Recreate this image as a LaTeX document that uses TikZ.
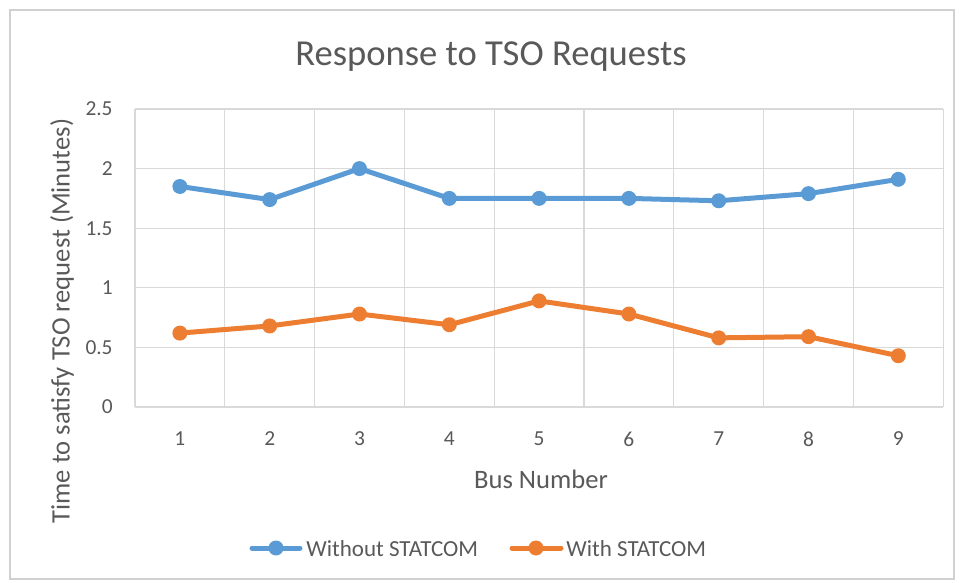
\documentclass[tikz,border=0pt]{standalone}
\usepackage{fontspec}
\setmainfont{Carlito}
\usepackage{xcolor}
\usepackage{tikz}

\definecolor{serieA}{HTML}{5B9BD5}
\definecolor{serieB}{HTML}{ED7D31}
\definecolor{gridgray}{HTML}{D9D9D9}
\definecolor{framegray}{HTML}{D0D0D0}
\definecolor{labelgray}{HTML}{595959}

\tikzset{
  gridline/.style={draw=gridgray, line width=0.6pt},
  ticklab/.style={text=labelgray, font=\fontsize{10.7}{12}\selectfont, inner sep=0pt},
  axistitle/.style={text=labelgray, font=\fontsize{13.3}{15}\selectfont, inner sep=0pt},
  legendlab/.style={text=labelgray, font=\fontsize{11.5}{13}\selectfont, inner sep=0pt},
  curveA/.style={draw=serieA, line width=2.5pt, line cap=round, line join=round},
  curveB/.style={draw=serieB, line width=2.5pt, line cap=round, line join=round},
  dotA/.style={circle, fill=serieA, inner sep=0pt, minimum size=7.5pt},
  dotB/.style={circle, fill=serieB, inner sep=0pt, minimum size=7.5pt},
}

\begin{document}
\begin{tikzpicture}[x=0.5pt, y=-0.5pt]
		\useasboundingbox (0,0) rectangle (960,583);
		% 外框
		\draw[framegray, line width=1pt] (10,10) rectangle (954,579);
		% 标题
		\node[text=labelgray, font=\fontsize{18.3}{21}\selectfont] (title) at (491,57) {Response to TSO Requests};
		% 网格
		\foreach \y/\v in {0/0,1/0.5,2/1,3/1.5,4/2,5/2.5} {
		\pgfmathsetmacro{\yy}{407-\y*0.5*119.2}
		\draw[gridline] (135,\yy) -- (943,\yy);
		\node[ticklab, anchor=east] (ylab\y) at (113,\yy) {\v};}
		\foreach \x in {0,...,9} {
		\pgfmathsetmacro{\xx}{135+\x*89.8}
		\draw[gridline] (\xx,109) -- (\xx,407);}
		% 横轴刻度
		\foreach \x in {1,...,9} {
		\pgfmathsetmacro{\xx}{135+(\x-0.5)*89.8}
		\node[ticklab] (xlab\x) at (\xx,439) {\x};}
		% 坐标轴标题
		\node[axistitle] (xtitle) at (541,479) {Bus Number};
		\node[axistitle, rotate=90] (ytitle) at (62,321) {Time to satisfy TSO request (Minutes)};
		% 数据点
		\foreach \x/\a/\b in {1/1.85/0.62, 2/1.74/0.68, 3/2.0/0.78, 4/1.75/0.69, 5/1.75/0.89,
			6/1.75/0.78, 7/1.73/0.58, 8/1.79/0.59, 9/1.91/0.43} {
		\pgfmathsetmacro{\xx}{135+(\x-0.5)*89.8}
		\pgfmathsetmacro{\ya}{407-\a*119.2}
		\pgfmathsetmacro{\yb}{407-\b*119.2}
		\coordinate (a\x) at (\xx,\ya);
		\coordinate (b\x) at (\xx,\yb);}
		% 曲线
		\draw[curveA] (a1) \foreach \x in {2,...,9} {-- (a\x)};
		\draw[curveB] (b1) \foreach \x in {2,...,9} {-- (b\x)};
		\foreach \x in {1,...,9} {
		\node[dotA] (ma\x) at (a\x) {};
		\node[dotB] (mb\x) at (b\x) {};}
		% 图例
		\coordinate (la1) at (252,548);
		\coordinate (la2) at (300,548);
		\draw[curveA] (la1) -- (la2);
		\node[dotA] (lma) at (276,548) {};
		\node[legendlab, anchor=west] (lega) at (306,549) {Without STATCOM};
		\coordinate (lb1) at (512,548);
		\coordinate (lb2) at (561,548);
		\draw[curveB] (lb1) -- (lb2);
		\node[dotB] (lmb) at (536,548) {};
		\node[legendlab, anchor=west] (legb) at (566,549) {With STATCOM};
	\end{tikzpicture}
\end{document}
